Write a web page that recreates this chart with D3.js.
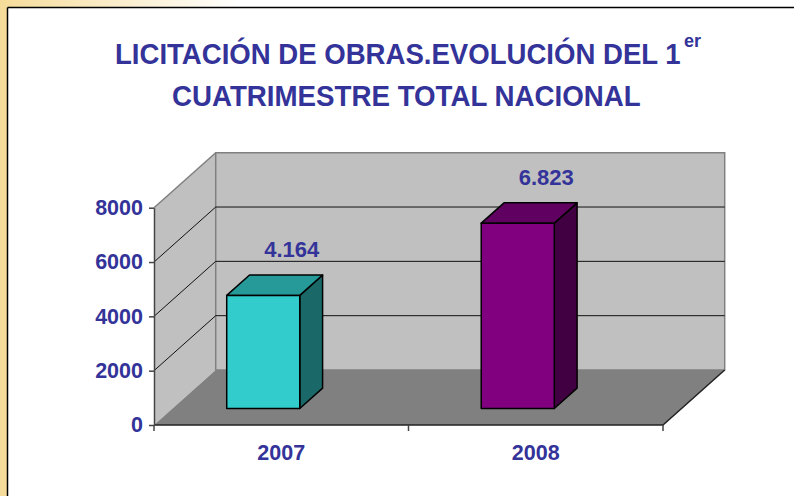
<!DOCTYPE html>
<html>
<head>
<meta charset="utf-8">
<script src="https://cdn.jsdelivr.net/npm/d3@7"></script>
<style>
  html, body { margin: 0; padding: 0; background: #fff; }
  svg { display: block; }
  text { font-family: "Liberation Sans", Arial, sans-serif; font-weight: bold; }
</style>
</head>
<body>
<div id="root"></div>
<script>
// datos
const categories = ['2007', '2008'];
const values = [4164, 6823];
const yTicks = [0, 2000, 4000, 6000, 8000];
const barColors = ['#33CCCC', '#800080'];
const titleLine1 = 'LICITACIÓN DE OBRAS.EVOLUCIÓN DEL 1';
const titleSup = 'er';
const titleLine2 = 'CUATRIMESTRE TOTAL NACIONAL';

const width = 794, height = 496;
const textColor = '#333399';

// plano frontal + vector de profundidad (pseudo 3D de Excel)
const front = { left: 154, right: 663, bottom: 425, top: 207.7 };
const depth = { dx: 61.7, dy: -55 };
const barZ0 = 0.30, barZ1 = 0.67;

const svg = d3.select('#root').append('svg')
    .attr('width', width)
    .attr('height', height);

// marco
const grad = svg.append('defs').append('linearGradient')
    .attr('id', 'topband').attr('x1', 0).attr('x2', 1).attr('y1', 0).attr('y2', 0);
grad.append('stop').attr('offset', 0).attr('stop-color', '#F6DC9A');
grad.append('stop').attr('offset', 0.3).attr('stop-color', '#FFFFFF');
svg.append('rect').attr('x', 0).attr('y', 0).attr('width', width).attr('height', 7).attr('fill', 'url(#topband)');
svg.append('rect').attr('x', 0).attr('y', 0).attr('width', 7).attr('height', height).attr('fill', '#F6DC9A');
svg.append('line').attr('x1', 7.5).attr('x2', width).attr('y1', 7.5).attr('y2', 7.5)
    .attr('stroke', '#000').attr('stroke-width', 1.5);
svg.append('line').attr('x1', 7.5).attr('x2', 7.5).attr('y1', 7.5).attr('y2', height)
    .attr('stroke', '#000').attr('stroke-width', 1.5);

// título: letra estrecha como en el original (escala horizontal)
function condensed(str, x0, y0, w) {
    const gT = svg.append('g');
    const t = gT.append('text')
        .attr('x', 0).attr('y', 0)
        .attr('font-size', 30).attr('fill', textColor)
        .text(str);
    const k = w / t.node().getComputedTextLength();
    gT.attr('transform', `translate(${x0},${y0}) scale(${k},1)`);
}
condensed(titleLine1, 115, 64, 566);
condensed(titleLine2, 172, 106, 469);
svg.append('text')
    .attr('x', 684).attr('y', 47)
    .attr('font-size', 18).attr('fill', textColor)
    .text(titleSup);

const x = d3.scaleBand()
    .domain(categories)
    .range([front.left, front.right])
    .padding(0);

const y = d3.scaleLinear()
    .domain([0, 8000])
    .range([front.bottom, front.top]);

// punto proyectado: xf en plano frontal, valor, profundidad z (0..1)
const P = (xf, v, z) => [xf + depth.dx * z, y(v) + depth.dy * z];
const poly = pts => pts.map(p => p.join(',')).join(' ');

const g = svg.append('g');
const yMax = y.domain()[1];

// pared lateral
g.append('polygon')
    .attr('points', poly([P(front.left, 0, 0), P(front.left, yMax, 0), P(front.left, yMax, 1), P(front.left, 0, 1)]))
    .attr('fill', '#C0C0C0');

// pared del fondo
g.append('polygon')
    .attr('points', poly([P(front.left, 0, 1), P(front.left, yMax, 1), P(front.right, yMax, 1), P(front.right, 0, 1)]))
    .attr('fill', '#C0C0C0')
    .attr('stroke', '#808080')
    .attr('stroke-width', 1.5);

// líneas de división
yTicks.filter(v => v > 0 && v < yMax).forEach(v => {
    const [ax, ay] = P(front.left, v, 0);
    const [bx, by] = P(front.left, v, 1);
    const [cx, cy] = P(front.right, v, 1);
    g.append('polyline')
        .attr('points', poly([[ax, ay], [bx, by], [cx, cy]]))
        .attr('fill', 'none')
        .attr('stroke', '#111')
        .attr('stroke-width', 1);
});

// borde superior de la pared lateral
g.append('line')
    .attr('x1', P(front.left, yMax, 0)[0]).attr('y1', P(front.left, yMax, 0)[1])
    .attr('x2', P(front.left, yMax, 1)[0]).attr('y2', P(front.left, yMax, 1)[1])
    .attr('stroke', '#808080').attr('stroke-width', 1.5);

// suelo
g.append('polygon')
    .attr('points', poly([P(front.left, 0, 0), P(front.right, 0, 0), P(front.right, 0, 1), P(front.left, 0, 1)]))
    .attr('fill', '#808080');
g.append('polyline')
    .attr('points', poly([P(front.left, 0, 0), P(front.right, 0, 0), P(front.right, 0, 1)]))
    .attr('fill', 'none')
    .attr('stroke', '#222')
    .attr('stroke-width', 1.5);

// eje Y
const gy = g.append('g')
    .attr('transform', `translate(${front.left},0)`)
    .call(d3.axisLeft(y).tickValues(yTicks).tickSize(5).tickSizeOuter(0).tickPadding(6).tickFormat(d3.format('d')));
gy.select('.domain').attr('stroke', '#444').attr('stroke-width', 1.5);
gy.selectAll('.tick line').attr('stroke', '#444').attr('stroke-width', 1.5);
gy.selectAll('.tick text')
    .attr('fill', textColor)
    .attr('font-size', 21.5)
    .attr('font-family', '"Liberation Sans", Arial, sans-serif')
    .attr('font-weight', 'bold');

// eje X: etiquetas centradas, marcas en los límites de categoría
const gx = g.append('g')
    .attr('transform', `translate(0,${front.bottom})`)
    .call(d3.axisBottom(x).tickSize(0).tickPadding(20));
gx.select('.domain').remove();
gx.selectAll('.tick text')
    .attr('fill', textColor)
    .attr('font-size', 21.5)
    .attr('font-family', '"Liberation Sans", Arial, sans-serif')
    .attr('font-weight', 'bold');

const bounds = categories.map(c => x(c)).concat([x.range()[1]]);
g.append('g').selectAll('line')
    .data(bounds)
    .join('line')
    .attr('x1', d => d).attr('x2', d => d)
    .attr('y1', front.bottom).attr('y2', front.bottom + 6)
    .attr('stroke', '#444').attr('stroke-width', 1.5);

// barras 3D
const fmt = d3.formatLocale({ decimal: ',', thousands: '.', grouping: [3], currency: ['', ''] }).format(',');
const shade = (c, k) => d3.rgb(c).darker(k).formatHex();

categories.forEach((cat, i) => {
    const bw = x.bandwidth();
    const xl = x(cat) + bw * 0.213;
    const xr = x(cat) + bw * 0.5;
    const v = values[i];
    const col = barColors[i];

    const fBL = P(xl, 0, barZ0), fBR = P(xr, 0, barZ0);
    const fTL = P(xl, v, barZ0), fTR = P(xr, v, barZ0);
    const bTL = P(xl, v, barZ1), bTR = P(xr, v, barZ1), bBR = P(xr, 0, barZ1);

    const bar = g.append('g')
        .attr('stroke', '#000')
        .attr('stroke-width', 1.5)
        .attr('stroke-linejoin', 'round');

    bar.append('polygon')
        .attr('points', poly([fBR, fTR, bTR, bBR]))
        .attr('fill', shade(col, 1.9));
    bar.append('polygon')
        .attr('points', poly([fTL, fTR, bTR, bTL]))
        .attr('fill', shade(col, 0.8));
    bar.append('polygon')
        .attr('points', poly([fBL, fTL, fTR, fBR]))
        .attr('fill', col);

    // etiqueta de valor
    g.append('text')
        .attr('x', x(cat) + bw / 2 + 10.5)
        .attr('y', P(0, v, 1)[1])
        .attr('text-anchor', 'middle')
        .attr('font-size', 22)
        .attr('fill', textColor)
        .text(fmt(v));
});
</script>
</body>
</html>
